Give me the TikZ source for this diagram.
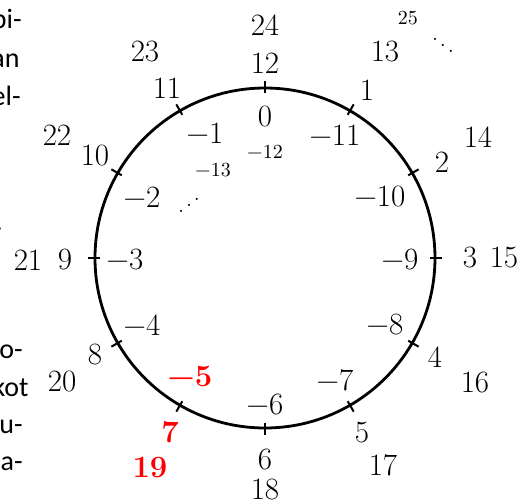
\documentclass[tikz,border=0pt]{standalone}
\usepackage{fontspec}
\newfontfamily\sidefont{Carlito}
\usetikzlibrary{calc}
\begin{document}
\begin{tikzpicture}[x=0.5pt,y=-0.5pt,
  num/.style={font=\fontsize{15.5}{18}\selectfont, inner sep=0pt},
  smallnum/.style={font=\fontsize{10}{12}\selectfont, inner sep=0pt},
  hl/.style={font=\fontsize{15.5}{18}\selectfont\bfseries, text=red, inner sep=0pt},
  side/.style={font=\sidefont\fontsize{14}{17}\selectfont, inner sep=0pt, anchor=base east},
  tickmark/.style={line width=1pt}]
\useasboundingbox (0,0) rectangle (527,504);
% clock circle
\node[circle, draw, line width=1.4pt, inner sep=0pt, minimum size=170pt] (clock) at (265,258) {};
\foreach \a in {0,30,...,330}{
  \draw[tickmark] ($(clock.center)!0.965!(clock.\a)$) -- ($(clock.center)!1.035!(clock.\a)$);
}
% inner labels
\node[num] (i0) at (265,117) {0};
\node[num] (i1) at (205,133) {−1};
\node[num] (i2) at (142,197) {−2};
\node[num] (i3) at (125,260) {−3};
\node[num] (i4) at (142,325) {−4};
\node[hl]  (i5) at (190,377) {−5};
\node[num] (i6) at (265,405) {−6};
\node[num] (i7) at (335,380) {−7};
\node[num] (i8) at (385,325) {−8};
\node[num] (i9) at (400,260) {−9};
\node[num] (i10) at (380,197) {−10};
\node[num] (i11) at (335,135) {−11};
\node[smallnum] (i12) at (265,152) {−12};
\node[smallnum] (i13) at (213,170) {−13};
\node[inner sep=0pt, font=\fontsize{10}{12}\selectfont] (idots) at (189,199) {\reflectbox{$\ddots$}};
% first outer ring
\node[num] (o12) at (265,63) {12};
\node[num] (o1) at (367,90) {1};
\node[num] (o2) at (442,162) {2};
\node[num] (o3) at (470,258) {3};
\node[num] (o4) at (435,357) {4};
\node[num] (o5) at (362,433) {5};
\node[num] (o6) at (265,460) {6};
\node[hl]  (o7) at (170,432) {7};
\node[num] (o8) at (95,355) {8};
\node[num] (o9) at (65,260) {9};
\node[num] (o10) at (95,156) {10};
\node[num] (o11) at (167,88) {11};
% second outer ring
\node[num] (p24) at (265,25) {24};
\node[num] (p13) at (385,52) {13};
\node[num] (p14) at (478,137) {14};
\node[num] (p15) at (504,258) {15};
\node[num] (p16) at (475,383) {16};
\node[num] (p17) at (383,465) {17};
\node[num] (p18) at (265,490) {18};
\node[hl]  (p19) at (150,468) {19};
\node[num] (p20) at (62,382) {20};
\node[num] (p21) at (28,260) {21};
\node[num] (p22) at (57,135) {22};
\node[num] (p23) at (145,52) {23};
\node[smallnum] (p25) at (408,18) {25};
\node[inner sep=0pt, font=\fontsize{10}{12}\selectfont] (odots) at (443,39) {$\ddots$};
% cut-off text at the left edge
\node[side] (s1) at (22,28) {pi-};
\node[side] (s2) at (20,67) {an};
\node[side] (s3) at (21,105) {el-};
\node[side] (s4) at (3,230) {.};
\node[side] (s5) at (23,358) {uo-};
\node[side] (s6) at (29,396) {kot};
\node[side] (s7) at (23,433) {uu-};
\node[side] (s8) at (23,471) {aa-};
\end{tikzpicture}
\end{document}
